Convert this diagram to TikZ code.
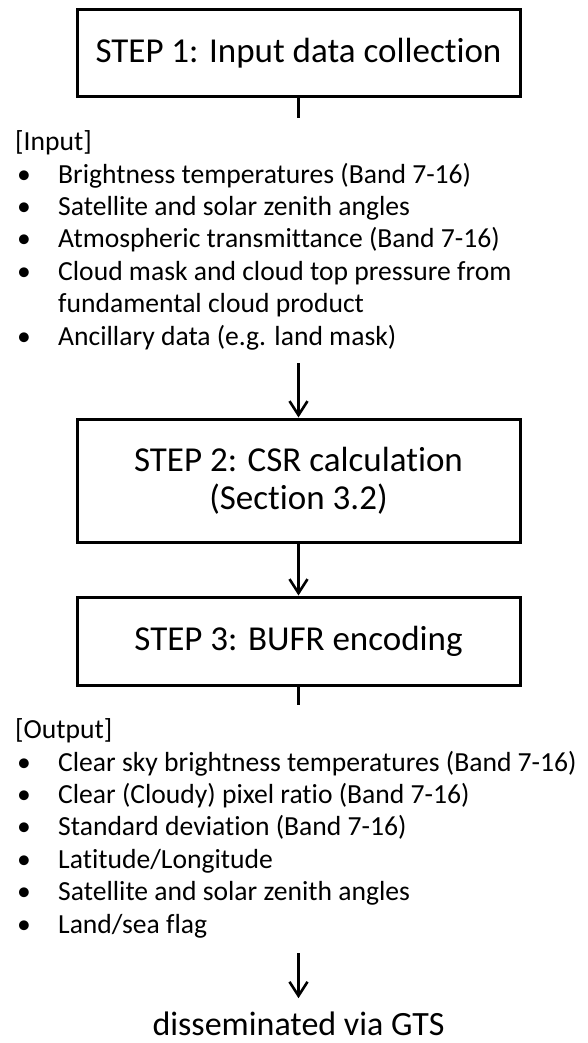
\documentclass[tikz,border=0pt]{standalone}
\usepackage{fontspec}
\setmainfont{Carlito}[Ligatures=NoCommon]
\usetikzlibrary{arrows.meta}

\tikzset{
  stepbox/.style={draw, line width=3pt, minimum width=443pt, align=center, inner sep=0pt, font=\fontsize{35}{38}\selectfont},
  itemlist/.style={anchor=west, inner sep=0pt, font=\fontsize{27.6}{32.4}\selectfont},
  flow/.style={line width=2.6pt, -{Straight Barb[length=14pt,width=18pt,line width=2.6pt]}},
  stub/.style={line width=2.6pt}
}

\begin{document}
\begin{tikzpicture}[x=1pt, y=-1pt]
    \useasboundingbox (0,0) rectangle (587,1043);
    % the three steps
    \node [stepbox, minimum height=87pt] (step1) at (298.5,53.5) {STEP 1: Input data collection};
    \node [stepbox, minimum height=123pt] (step2) at (298.5,480.5) {STEP 2: CSR calculation\\(Section 3.2)};
    \node [stepbox, minimum height=88pt] (step3) at (298.5,641) {STEP 3: BUFR encoding};
    % input and output lists
    \node [itemlist] (input) at (15,241.5) {\begin{tabular}{@{}p{43pt}@{}l@{}}
        \multicolumn{2}{@{}l@{}}{[Input]}\\
        \hspace*{2pt}\textbullet & Brightness temperatures (Band 7-16)\\
        \hspace*{2pt}\textbullet & Satellite and solar zenith angles\\
        \hspace*{2pt}\textbullet & Atmospheric transmittance (Band 7-16)\\
        \hspace*{2pt}\textbullet & Cloud mask and cloud top pressure from\\
         & fundamental cloud product\\
        \hspace*{2pt}\textbullet & Ancillary data (e.g. land mask)\\
    \end{tabular}};
    \node [itemlist] (output) at (15,829.5) {\begin{tabular}{@{}p{43pt}@{}l@{}}
        \multicolumn{2}{@{}l@{}}{[Output]}\\
        \hspace*{2pt}\textbullet & Clear sky brightness temperatures (Band 7-16)\\
        \hspace*{2pt}\textbullet & Clear (Cloudy) pixel ratio (Band 7-16)\\
        \hspace*{2pt}\textbullet & Standard deviation (Band 7-16)\\
        \hspace*{2pt}\textbullet & Latitude/Longitude\\
        \hspace*{2pt}\textbullet & Satellite and solar zenith angles\\
        \hspace*{2pt}\textbullet & Land/sea flag\\
    \end{tabular}};
    \node [anchor=base, inner sep=0pt, font=\fontsize{34}{38}\selectfont] (gts) at (298.5,1035) {disseminated via GTS};
    % connectors
    \coordinate (inEnd) at (298.5,118);
    \coordinate (inTop) at (298.5,363);
    \coordinate (outEnd) at (298.5,705);
    \coordinate (outTop) at (298.5,953);
    \draw [stub] (step1.south) -- (inEnd);
    \draw [flow] (inTop) -- (step2.north);
    \draw [flow] (step2.south) -- (step3.north);
    \draw [stub] (step3.south) -- (outEnd);
    \draw [flow, shorten >=13pt] (outTop) -- (gts.north);
\end{tikzpicture}
\end{document}
